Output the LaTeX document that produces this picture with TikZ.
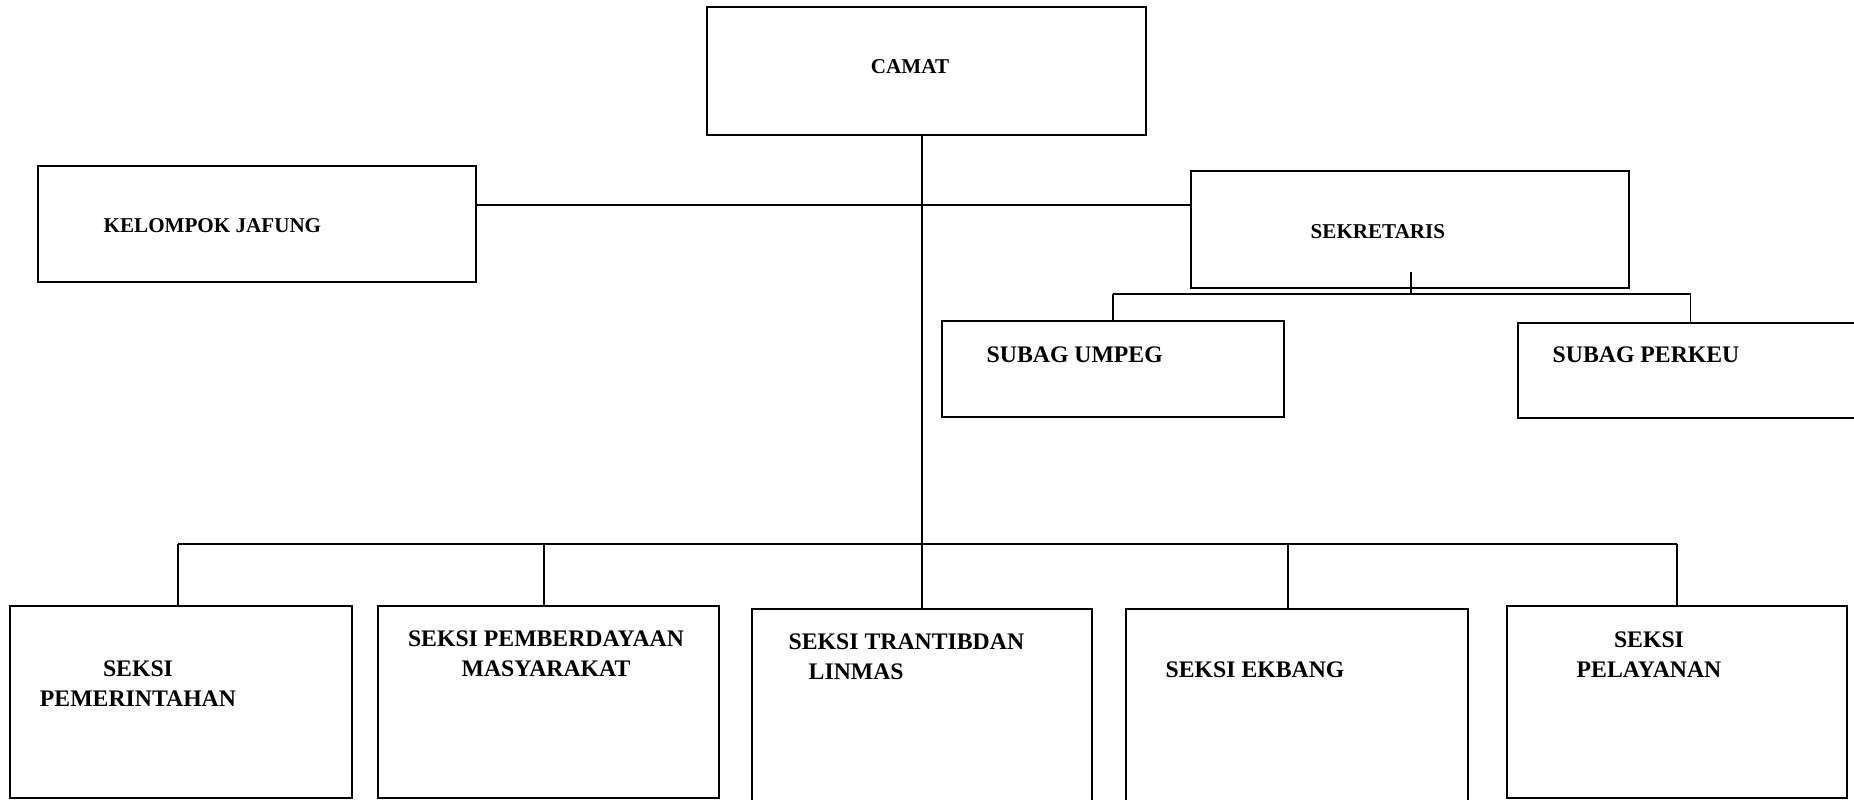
\documentclass[tikz,border=0pt]{standalone}
\usepackage{fontspec}
\setmainfont{Liberation Serif}
\usepackage{tikz}

\tikzset{
	kotak/.style={draw, rectangle, line width=0.6pt, anchor=north west, inner sep=0pt},
	garis/.style={line width=0.4pt},
	judulatas/.style={font=\bfseries\fontsize{6}{7}\selectfont, inner sep=0pt},
	judul/.style={font=\bfseries\fontsize{6.75}{8.5}\selectfont, inner sep=0pt}
}

\begin{document}
\begin{tikzpicture}[x=0.01cm, y=-0.01cm]
			\useasboundingbox (0,0) rectangle (1854,799);
			
			% all boxes, from the top left corner
			\foreach \name/\x/\y/\w/\h in
			{camat/706/6/439/128, jafung/37/165/438/116, sekretaris/1190/170/438/117,
				umpeg/941/320/342/96, perkeu/1517/322/345/95,
				pemerintahan/9/605/342/192, pemberdayaan/377/605/341/192, trantib/751/608/340/200,
				ekbang/1125/608/342/200, pelayanan/1506/605/340/192}{
				\node[kotak, minimum width=\w*0.01cm, minimum height=\h*0.01cm] (\name) at (\x,\y) {};
			}
			
			% texts of the upper level
			\node[judulatas, anchor=base] (camat-t) at (910,73) {CAMAT};
			\node[judulatas, anchor=base west] (jafung-t) at (103,232) {KELOMPOK JAFUNG};
			\node[judulatas, anchor=base west] (sekretaris-t) at (1310,238) {SEKRETARIS};
			\node[judul, anchor=base west] (umpeg-t) at (986,362) {SUBAG UMPEG};
			\node[judul, anchor=base west] (perkeu-t) at (1552,362) {SUBAG PERKEU};
			
			% texts of the seksi boxes (base is the last line)
			\foreach \name/\x/\y/\teks in
			{pemerintahan/138/706/{SEKSI\\PEMERINTAHAN}, pemberdayaan/546/676/{SEKSI PEMBERDAYAAN\\MASYARAKAT},
				ekbang/1255/677/{SEKSI EKBANG}, pelayanan/1649/677/{SEKSI\\PELAYANAN}}{
				\node[judul, anchor=base, align=center] (\name-t) at (\x,\y) {\teks};
			}
			\node[judul, anchor=base west, align=left] (trantib-t) at (788,679) {SEKSI TRANTIBDAN\\\hspace{0.2cm}LINMAS};
			
			% bus lines
			\coordinate (bus-atas) at (922,205);
			\coordinate (bus-sek) at (1411,294);
			\coordinate (bus-bawah) at (922,544);
			\coordinate (sek-dalam) at (1411,272);
			
			% edges
			\draw[garis] (camat.south -| trantib.north) -- (trantib.north);
			\draw[garis] (jafung.east |- bus-atas) -- (sekretaris.west |- bus-atas);
			\draw[garis] (sek-dalam) -- (bus-sek);
			\draw[garis] (umpeg.north |- bus-sek) -- (perkeu.north |- bus-sek);
			\foreach \name in {umpeg, perkeu}{
				\draw[garis] (\name.north |- bus-sek) -- (\name.north);
			}
			\draw[garis] (178,544) -- (1677,544);
			\foreach \name/\x in {pemerintahan/178, pemberdayaan/544, ekbang/1288, pelayanan/1677}{
				\draw[garis] (\x,544) -- (\x,0 |- \name.north);
			}
		\end{tikzpicture}
\end{document}
